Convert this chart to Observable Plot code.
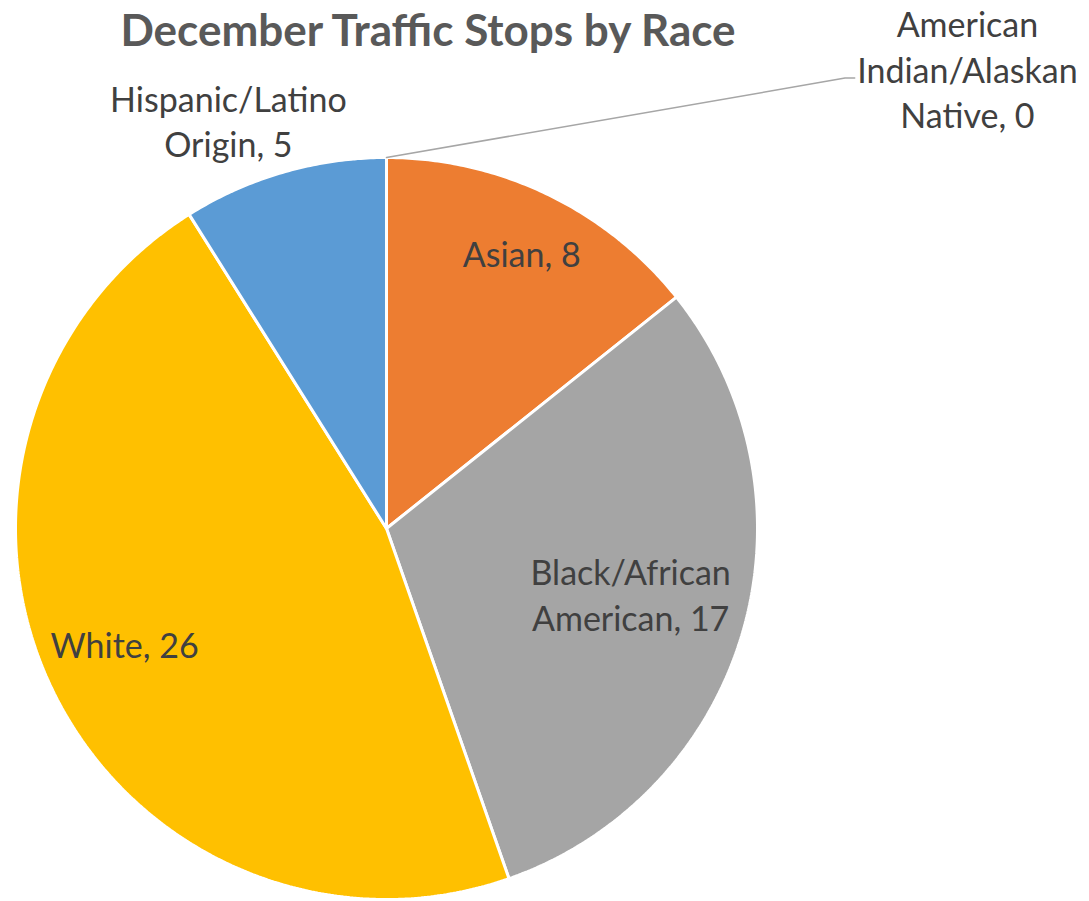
<!DOCTYPE html>
<html>
<head>
<meta charset="utf-8">
<script src="https://cdn.jsdelivr.net/npm/d3@7"></script>
<script src="https://cdn.jsdelivr.net/npm/@observablehq/plot@0.6"></script>
<style>
  html, body { margin: 0; padding: 0; background: #fff; }
  #wrap { position: relative; width: 1089px; height: 901px; overflow: hidden; }
  #title { position: absolute; left: 78px; width: 700px; top: 3px; text-align: center;
           font-family: Lato, "Open Sans", sans-serif; font-weight: bold; font-size: 44px; color: #595959; white-space: nowrap; }
  svg { position: absolute; left: 0; top: 0; }
</style>
</head>
<body>
<div id="wrap"><div id="title">December Traffic Stops by Race</div></div>
<script>
// ---- data ----
const categories = ["American Indian/Alaskan Native", "Asian", "Black/African American", "White", "Hispanic/Latino Origin"];
const values = [0, 8, 17, 26, 5];
const colors = ["#4472C4", "#ED7D31", "#A5A5A5", "#FFC000", "#5B9BD5"];
const labelTexts = ["American\nIndian/Alaskan\nNative, 0", "Asian, 8", "Black/African\nAmerican, 17", "White, 26", "Hispanic/Latino\nOrigin, 5"];

// label placement (radius in units of pie radius, angle in degrees clockwise from top)
const labelRadius = [1.998, 0.828, 0.681, 0.771, 1.181];
const labelAngle = [51.6, 26.1, 104.9, 246.3, 338.85];

// ---- build wedges ----
const arcs = d3.pie().sort(null).value(d => d)(values);
const wedgePts = [];
arcs.forEach((a, i) => {
  const name = categories[i];
  wedgePts.push({name, x: 0, y: 0});
  const n = Math.max(2, Math.ceil((a.endAngle - a.startAngle) / (Math.PI / 360)));
  for (let k = 0; k <= n; k++) {
    const t = a.startAngle + (a.endAngle - a.startAngle) * k / n;
    wedgePts.push({name, x: Math.sin(t), y: Math.cos(t)});
  }
  wedgePts.push({name, x: 0, y: 0});
});

const labels = arcs.map((a, i) => {
  const ang = labelAngle[i] * Math.PI / 180;
  const r = labelRadius[i];
  return {name: categories[i], text: labelTexts[i], x: r * Math.sin(ang), y: r * Math.cos(ang)};
});

// leader line for the zero slice (from slice edge to label)
const zeroArc = arcs[0];
const leader = [
  {x: Math.sin(zeroArc.startAngle), y: Math.cos(zeroArc.startAngle)},
  {x: 1.236, y: 1.214},
  {x: 1.262, y: 1.214}
];

const R = 371, cx = 386, cy = 528;
const chart = Plot.plot({
  width: 1089,
  height: 901,
  marginLeft: cx - R,
  marginRight: 1089 - (cx + R),
  marginTop: cy - R,
  marginBottom: 901 - (cy + R),
  x: {domain: [-1, 1], axis: null},
  y: {domain: [-1, 1], axis: null},
  color: {domain: categories, range: colors},
  style: {overflow: "visible", background: "transparent"},
  marks: [
    Plot.line(wedgePts, {x: "x", y: "y", z: "name", fill: "name", stroke: "white", strokeWidth: 3, strokeLinejoin: "miter", curve: "linear"}),
    Plot.line(leader, {x: "x", y: "y", stroke: "#a6a6a6", strokeWidth: 1.5}),
    Plot.text(labels, {x: "x", y: "y", text: "text", fill: "#404040", fontSize: 34, lineHeight: 1.34,
      fontFamily: "Lato, 'Open Sans', sans-serif", textAnchor: "middle"})
  ]
});
document.getElementById("wrap").prepend(chart);
</script>
</body>
</html>
